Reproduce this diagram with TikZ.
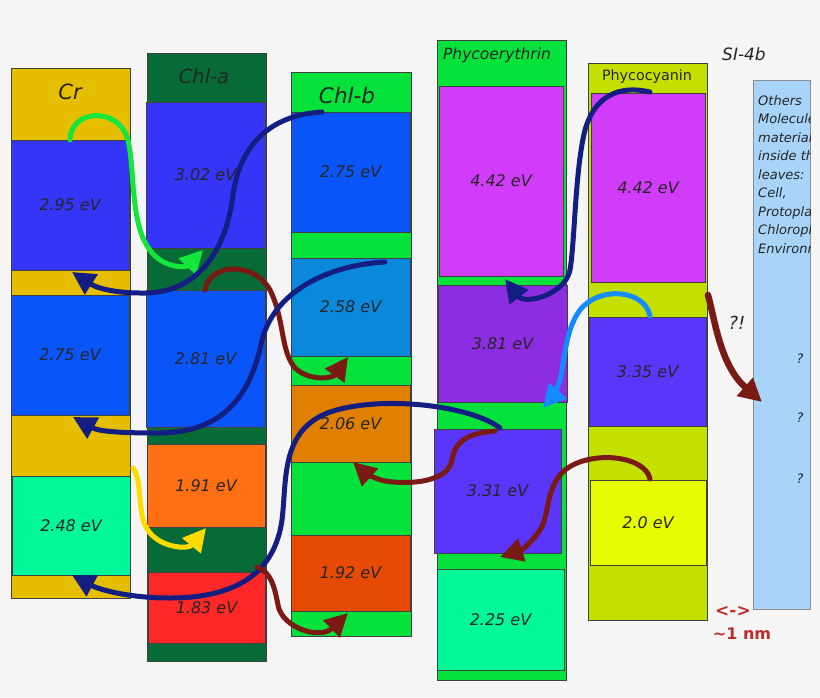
\documentclass[tikz,border=0pt]{standalone}
\usepackage{fontspec}
\setmainfont{DejaVu Sans}
\usetikzlibrary{arrows.meta,calc}
\definecolor{bgc}{HTML}{F5F5F5}
\definecolor{crgold}{HTML}{E6BE00}
\definecolor{chladark}{HTML}{066B36}
\definecolor{brgreen}{HTML}{05E23C}
\definecolor{pcgreen}{HTML}{C4E000}
\definecolor{panelblue}{HTML}{A8D4FA}
\definecolor{blueA}{HTML}{3535F8}
\definecolor{blueB}{HTML}{0A55F8}
\definecolor{springc}{HTML}{00F898}
\definecolor{orangeA}{HTML}{FF7014}
\definecolor{redA}{HTML}{FF2828}
\definecolor{skyc}{HTML}{0A88DC}
\definecolor{orangeB}{HTML}{E08000}
\definecolor{orangeC}{HTML}{E64A05}
\definecolor{magc}{HTML}{D03CF8}
\definecolor{violc}{HTML}{8C2DE1}
\definecolor{indc}{HTML}{5A35FA}
\definecolor{yelc}{HTML}{E8FC00}
\definecolor{navyc}{HTML}{141E82}
\definecolor{darkredc}{HTML}{7A1A14}
\definecolor{arrgreen}{HTML}{14E63C}
\definecolor{arryellow}{HTML}{FFDC00}
\definecolor{arrblue}{HTML}{148CFF}
\definecolor{redtext}{HTML}{BE2D28}
\newcommand\mkbox[7]{%
  \pgfmathsetmacro\mbw{#4-#2}\pgfmathsetmacro\mbh{#5-#3}%
  \node[ebox, fill=#6, minimum width=\mbw pt, minimum height=\mbh pt] (#1) at ({(#2+#4)/2},{(#3+#5)/2}) {#7};}
\begin{document}
\begin{tikzpicture}[x=1pt,y=-1pt,
  ebox/.style={draw=black!75, line width=0.8pt, inner sep=0pt, outer sep=0pt, rectangle,
    font=\fontsize{16}{18}\selectfont\itshape, text=black!85},
  collabel/.style={font=\fontsize{20}{22}\selectfont\itshape, text=black!85, inner sep=0pt},
  conn/.style={line width=5pt, line cap=round, -{Triangle[length=23pt,width=23pt]}},
  navyarr/.style={conn, draw=navyc, color=navyc},
  redarr/.style={conn, draw=darkredc, color=darkredc},
]
\useasboundingbox (0,0) rectangle (820,697);
\fill[bgc] (0,0) rectangle (820,697);

% columns
\mkbox{cr}{11}{68}{130}{598}{crgold}{}
\mkbox{chla}{147}{53}{266}{661}{chladark}{}
\mkbox{chlb}{291}{72}{411}{636}{brgreen}{}
\mkbox{pe}{437}{40}{566}{680}{brgreen}{}
\mkbox{pc}{588}{63}{707}{620}{pcgreen}{}
\node[draw=black!45, line width=0.8pt, fill=panelblue, inner sep=0pt, minimum width=57pt, minimum height=529pt] (panel) at (781.5,344.5) {};

% column labels
\node[collabel, font=\fontsize{21}{23}\selectfont\itshape] (crlab) at (70,92) {Cr};
\node[collabel, font=\fontsize{19.5}{22}\selectfont\itshape] (chlalab) at (204,76) {Chl-a};
\node[collabel, font=\fontsize{21.5}{23}\selectfont\itshape] (chlblab) at (347,95) {Chl-b};
\node[collabel, font=\fontsize{15.5}{18}\selectfont\itshape] (pelab) at (497,55) {Phycoerythrin};
\node[collabel, font=\fontsize{14.3}{17}\selectfont] (pclab) at (647,77) {Phycocyanin};
\node[collabel, font=\fontsize{17}{20}\selectfont\itshape] (silab) at (744,54) {SI-4b};

% level boxes
\mkbox{cr1}{11}{140}{129}{270}{blueA}{2.95 eV}
\mkbox{cr2}{11}{295}{129}{415}{blueB}{2.75 eV}
\mkbox{cr3}{12}{476}{130}{575}{springc}{2.48 eV}
\mkbox{ca1}{146}{102}{265}{248}{blueA}{3.02 eV}
\mkbox{ca2}{146}{290}{265}{427}{blueB}{2.81 eV}
\mkbox{ca3}{147}{444}{265}{527}{orangeA}{1.91 eV}
\mkbox{ca4}{148}{572}{265}{643}{redA}{1.83 eV}
\mkbox{cb1}{291}{112}{410}{232}{blueB}{2.75 eV}
\mkbox{cb2}{291}{258}{410}{356}{skyc}{2.58 eV}
\mkbox{cb3}{291}{385}{410}{462}{orangeB}{2.06 eV}
\mkbox{cb4}{291}{535}{410}{611}{orangeC}{1.92 eV}
\mkbox{pe1}{439}{86}{563}{276}{magc}{4.42 eV}
\mkbox{pe2}{438}{285}{567}{402}{violc}{3.81 eV}
\mkbox{pe3}{434}{429}{561}{553}{indc}{3.31 eV}
\mkbox{pe4}{437}{569}{564}{670}{springc}{2.25 eV}
\mkbox{pc1}{591}{93}{705}{282}{magc}{4.42 eV}
\mkbox{pc2}{589}{317}{706}{426}{indc}{3.35 eV}
\mkbox{pc3}{590}{480}{706}{565}{yelc}{2.0 eV}

% panel text (clipped by the panel edge, as in the reference)
\begin{scope}
\clip (panel.north west) rectangle (panel.south east);
\node[anchor=north west, align=left, inner sep=0pt, font=\fontsize{13}{18.5}\selectfont\itshape, text=black!85] (ptext) at (758,95)
 {Others\\Molecules\\materials\\inside the\\leaves:\\Cell,\\Protoplasm\\Chloroplast\\Environment};
\node[font=\fontsize{13}{15}\selectfont\itshape, text=black!85] (q1) at (800,359) {?};
\node[font=\fontsize{13}{15}\selectfont\itshape, text=black!85] (q2) at (800,418) {?};
\node[font=\fontsize{13}{15}\selectfont\itshape, text=black!85] (q3) at (800,479) {?};
\end{scope}

\node[font=\fontsize{18}{20}\selectfont\itshape, text=black!85] (qe) at (737,323) {?!};
\node[font=\fontsize{17}{19}\selectfont\bfseries, text=redtext] (dist) at (733,611) {<->};
\node[font=\fontsize{16}{18}\selectfont\bfseries, text=redtext] (nm) at (742,634) {\textasciitilde 1 nm};

% connector end points
\coordinate (gE) at (203,250);
\coordinate (n1S) at (322,112);
\coordinate (n1E) at (72,272);
\coordinate (r1S) at (205,290);
\coordinate (r1E) at (348,357);
\coordinate (n2S) at (385,262);
\coordinate (n2E) at (73,417);
\coordinate (yS) at (133,468);
\coordinate (yE) at (206,528);
\coordinate (n3S) at (500,428);
\coordinate (n3E) at (72,575);
\coordinate (r2S) at (495,431);
\coordinate (r2E) at (353,462);
\coordinate (r3S) at (257,567);
\coordinate (r3E) at (348,613);
\coordinate (n4S) at (650,92);
\coordinate (n4E) at (505,279);
\coordinate (bS) at (650,316);
\coordinate (bE) at (543,408);
\coordinate (r4S) at (650,479);
\coordinate (r4E) at (500,557);
\coordinate (r5S) at (708,295);
\coordinate (r5E) at (762,402);

% connectors
\draw[conn, draw=arrgreen, color=arrgreen] (cr1.north) .. controls (70,110) and (118,105) .. (128,140)
  .. controls (135,170) and (130,225) .. (150,250) .. controls (162,268) and (186,268) .. (gE);
\draw[navyarr] (n1S) .. controls (270,115) and (240,145) .. (233,195)
  .. controls (225,260) and (190,295) .. (140,293) .. controls (122,293) and (100,290) .. (n1E);
\draw[redarr] (r1S) .. controls (210,262) and (255,262) .. (270,290)
  .. controls (285,320) and (280,350) .. (295,368) .. controls (310,382) and (333,378) .. (r1E);
\draw[navyarr] (n2S) .. controls (330,265) and (275,290) .. (262,340)
  .. controls (250,400) and (220,432) .. (160,433) .. controls (125,433) and (100,432) .. (n2E);
\draw[conn, draw=arryellow, color=arryellow] (yS) .. controls (142,480) and (138,510) .. (145,525)
  .. controls (155,548) and (188,550) .. (yE);
\draw[navyarr] (n3S) .. controls (470,405) and (380,395) .. (330,412)
  .. controls (280,430) and (287,480) .. (282,520) .. controls (275,570) and (240,598) .. (170,598)
  .. controls (130,598) and (100,590) .. (n3E);
\draw[redarr] (r2S) .. controls (470,433) and (455,440) .. (452,460)
  .. controls (448,482) and (410,485) .. (385,481) .. controls (375,479) and (364,472) .. (r2E);
\draw[redarr] (r3S) .. controls (272,572) and (275,590) .. (278,605)
  .. controls (282,628) and (320,640) .. (r3E);
\draw[navyarr] (n4S) .. controls (620,85) and (595,95) .. (585,130)
  .. controls (575,170) and (575,240) .. (570,270) .. controls (565,295) and (525,305) .. (n4E);
\draw[conn, draw=arrblue, color=arrblue] (bS) .. controls (645,290) and (600,285) .. (580,310)
  .. controls (565,330) and (565,360) .. (560,380) .. controls (556,392) and (550,400) .. (bE);
\draw[redarr] (r4S) .. controls (645,455) and (590,450) .. (565,470)
  .. controls (545,487) and (550,515) .. (540,530) .. controls (532,542) and (522,550) .. (r4E);
\draw[redarr, line width=6.5pt] (r5S) .. controls (715,320) and (720,365) .. (r5E);
\end{tikzpicture}
\end{document}
